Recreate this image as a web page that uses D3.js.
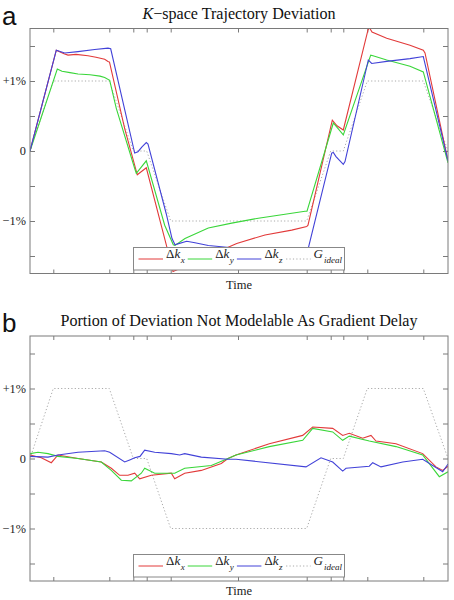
<!DOCTYPE html>
<html><head><meta charset="utf-8">
<script src="https://cdn.jsdelivr.net/npm/d3@7"></script>
<style>body{margin:0;background:#fff}svg{display:block}</style>
</head><body><svg id="c" width="454" height="600"></svg>
<script>
// ---- data ----
const gTime  = [0,23.3,79.3,103.3,116.7,140.7,276.7,300.7,313.3,337.3,393.3,418];
const gIdeal = [0,1,1,0,0,-1,-1,0,0,1,1,0];
const xTicks = [23.3,79.3,103.3,116.7,140.7,208,276.7,300.7,313.3,337.3,393.3];
const yTicks = [-1.5,-1,-0.5,0,0.5,1,1.5];
const yTickLabels = {"-1":"−1%","0":"0","1":"+1%"};

// panel a
const aKxT = [0,26.3,29,34,38,46,58,66,74.7,78,79.5,94.7,107.3,116.3,136.3,143,150,175,206.7,235,261.7,276.7,278,302.3,307,313.3,338,339.5,342,356.7,380,393.3,395,418];
const aKxV = [0,1.44,1.42,1.39,1.37,1.38,1.36,1.34,1.31,1.28,1.27,0.32,-0.34,-0.24,-1.34,-1.72,-1.68,-1.52,-1.32,-1.20,-1.13,-1.08,-1.06,0.44,0.36,0.30,1.73,1.76,1.70,1.61,1.51,1.44,1.40,-0.14];
const aKyT = [0,27.3,32,40,48,60,70,74.7,79.7,86.3,104.7,106.3,116.3,134.7,143.3,145,155,178.3,201.7,228.3,251.7,275,277,303.3,313.3,340.7,343,356.7,380,393.3,418];
const aKyV = [0,1.17,1.14,1.12,1.10,1.09,1.07,1.05,1.01,0.61,-0.25,-0.32,-0.14,-1.06,-1.34,-1.35,-1.25,-1.10,-1.03,-0.96,-0.91,-0.86,-0.86,0.40,0.23,1.37,1.36,1.30,1.21,1.13,-0.17];
const aKzT = [0,26.3,34.7,48,64.7,78,80.7,104.7,108,112,116.3,118,136.3,142,145,147,156.7,165,178.3,230,276.7,301.7,303.3,306,313.3,315,338.3,341.7,356.7,380,393.3,418];
const aKzV = [0,1.44,1.40,1.42,1.45,1.47,1.46,-0.03,-0.01,0.06,0.12,0.10,-0.90,-1.25,-1.34,-1.33,-1.29,-1.31,-1.35,-1.42,-1.48,-0.03,-0.02,-0.08,-0.19,-0.15,1.30,1.25,1.28,1.32,1.35,-0.14];

// panel b
const bKxT = [0,11.3,21.3,28,48,71.3,81.3,89.7,98,104.7,109.7,121.3,141.3,144.7,154.7,171.3,191.3,198,206,239.3,272.7,282.7,302.7,312.7,319.3,332.7,341,346,366,392.7,406,412.7,418];
const bKxV = [0.05,0.01,-0.06,0.05,0.00,-0.05,-0.14,-0.24,-0.24,-0.21,-0.29,-0.24,-0.21,-0.29,-0.21,-0.17,-0.07,0.0,0.05,0.21,0.33,0.45,0.43,0.33,0.36,0.29,0.33,0.25,0.21,0.07,-0.12,-0.17,-0.11];
const bKyT = [0,8,18,28,48,71.3,81.3,91.3,101.3,111.3,114.7,124.7,144.7,154.7,181.3,198,206,239.3,272.7,282.7,302.7,312.7,319.3,339.3,366,392.7,409.3,418];
const bKyV = [0.07,0.09,0.07,0.03,0.00,-0.05,-0.17,-0.31,-0.32,-0.21,-0.14,-0.21,-0.21,-0.14,-0.10,0.0,0.05,0.17,0.26,0.43,0.38,0.26,0.32,0.25,0.17,0.05,-0.26,-0.19];
const bKzT = [0,18,28,48,74.7,79.7,94.7,99.7,104.7,110,114.7,124.7,141.3,149.7,154.7,171.3,198,206,276,291,302.7,312.7,316,339.3,342.7,351,372.7,392.7,412.7,418];
const bKzV = [0.03,0.02,0.05,0.09,0.11,0.09,-0.05,-0.02,0.01,0.03,0.12,0.09,0.07,0.05,0.07,0.02,-0.01,-0.01,-0.12,0.01,-0.05,-0.18,-0.14,-0.11,-0.06,-0.12,-0.05,-0.01,-0.19,-0.08];

// ---- layout ----
const svg = d3.select("#c");
const X0 = 30, X1 = 448;
const serif = "'Liberation Serif','Times New Roman',serif";
const colors = {x:"#e23a3a", y:"#3ad63a", z:"#4242d8", g:"#aaaaaa"};

const panels = [
  {top:28.5, bottom:273.5, letter:"a", letterY:25, titleY:18.5, timeY:288.5,
   title:[["K","italic"],["−space Trajectory Deviation","normal"]],
   series:[[aKxT,aKxV,"x"],[aKyT,aKyV,"y"],[aKzT,aKzV,"z"]]},
  {top:336, bottom:581, letter:"b", letterY:332, titleY:325.5, timeY:595,
   title:[["Portion of Deviation Not Modelable As Gradient Delay","normal"]],
   series:[[bKxT,bKxV,"x"],[bKyT,bKyV,"y"],[bKzT,bKzV,"z"]]}
];

const x = d3.scaleLinear().domain([0,418]).range([X0,X1]);

panels.forEach((p,i)=>{
  const y = d3.scaleLinear().domain([-1.75,1.75]).range([p.bottom,p.top]);
  const g = svg.append("g");
  const clipId = "clip"+i;
  svg.append("clipPath").attr("id",clipId).append("rect")
     .attr("x",X0).attr("y",p.top).attr("width",X1-X0).attr("height",p.bottom-p.top);

  // panel letter
  svg.append("text").attr("x",2).attr("y",p.letterY)
     .attr("font-family","'Liberation Sans',Arial,sans-serif").attr("font-size",26)
     .attr("fill","#111").text(p.letter);
  // title
  const t = svg.append("text").attr("x",(X0+X1)/2).attr("y",p.titleY)
     .attr("text-anchor","middle").attr("font-family",serif).attr("font-size",16.1).attr("fill","#111");
  p.title.forEach(([s,st])=>t.append("tspan").attr("font-style",st).text(s));

  // axes (inward ticks on all sides)
  const axCol = "#7a7a7a";
  const axB = d3.axisBottom(x).tickValues(xTicks).tickSize(-4).tickFormat("");
  const axT = d3.axisTop(x).tickValues(xTicks).tickSize(-4).tickFormat("");
  const axL = d3.axisLeft(y).tickValues(yTicks).tickSize(-5).tickPadding(4)
     .tickFormat(d=>yTickLabels[String(d)]||"");
  const axR = d3.axisRight(y).tickValues(yTicks).tickSize(-5).tickFormat("");
  const ga = [
    g.append("g").attr("transform",`translate(0,${p.bottom})`).call(axB),
    g.append("g").attr("transform",`translate(0,${p.top})`).call(axT),
    g.append("g").attr("transform",`translate(${X0},0)`).call(axL),
    g.append("g").attr("transform",`translate(${X1},0)`).call(axR)
  ];
  ga.forEach(a=>{a.selectAll("path,line").attr("stroke",axCol);a.select(".domain").remove();});
  ga[2].selectAll("text").attr("font-family",serif).attr("font-size",12.3).attr("fill","#222");

  // ideal gradient
  const line = d3.line().x(d=>x(d[0])).y(d=>y(d[1]));
  const lg = g.append("g").attr("clip-path",`url(#${clipId})`);
  lg.append("path").datum(gTime.map((tt,k)=>[tt,gIdeal[k]]))
    .attr("d",line).attr("fill","none").attr("stroke",colors.g)
    .attr("stroke-width",1).attr("stroke-dasharray","1.2,2.2");
  p.series.forEach(([T,V,c])=>{
    lg.append("path").datum(T.map((tt,k)=>[tt,V[k]]))
      .attr("d",line).attr("fill","none").attr("stroke",colors[c]).attr("stroke-width",1.1);
  });

  // frame
  g.append("rect").attr("x",X0).attr("y",p.top).attr("width",X1-X0).attr("height",p.bottom-p.top)
   .attr("fill","none").attr("stroke",axCol).attr("stroke-width",1);

  // Time label
  svg.append("text").attr("x",(X0+X1)/2).attr("y",p.timeY).attr("text-anchor","middle")
     .attr("font-family",serif).attr("font-size",12.5).attr("fill","#222").text("Time");

  // legend
  const L = {x:133.5, y:Math.round(p.bottom-27)+0.5, w:211, h:22.5};
  const lgd = svg.append("g");
  lgd.append("rect").attr("x",L.x).attr("y",L.y).attr("width",L.w).attr("height",L.h)
     .attr("fill","#fff").attr("stroke","#888").attr("stroke-width",1);
  const items = [["x","Δ","k","x"],["y","Δ","k","y"],["z","Δ","k","z"],["g","","G","ideal"]];
  items.forEach(([c,pre,main,sub],k)=>{
    const ox = L.x + 5 + k*49.2;
    const ly = Math.round(L.y + 11.5);
    lgd.append("line").attr("x1",ox).attr("x2",ox+24.5).attr("y1",ly).attr("y2",ly)
       .attr("stroke",colors[c]).attr("stroke-width",1)
       .attr("stroke-dasharray",c==="g"?"1.2,2.2":null);
    const tx = lgd.append("text").attr("x",ox+27.5).attr("y",L.y+10)
       .attr("font-family",serif).attr("font-size",13).attr("fill","#222");
    if(pre) tx.append("tspan").text(pre);
    tx.append("tspan").attr("font-style","italic").text(main);
    tx.append("tspan").attr("font-style","italic").attr("font-size",9).attr("dy",5.5)
      .attr("dx", c==="g"?1:0.5).text(sub);
  });
});
</script></body></html>
